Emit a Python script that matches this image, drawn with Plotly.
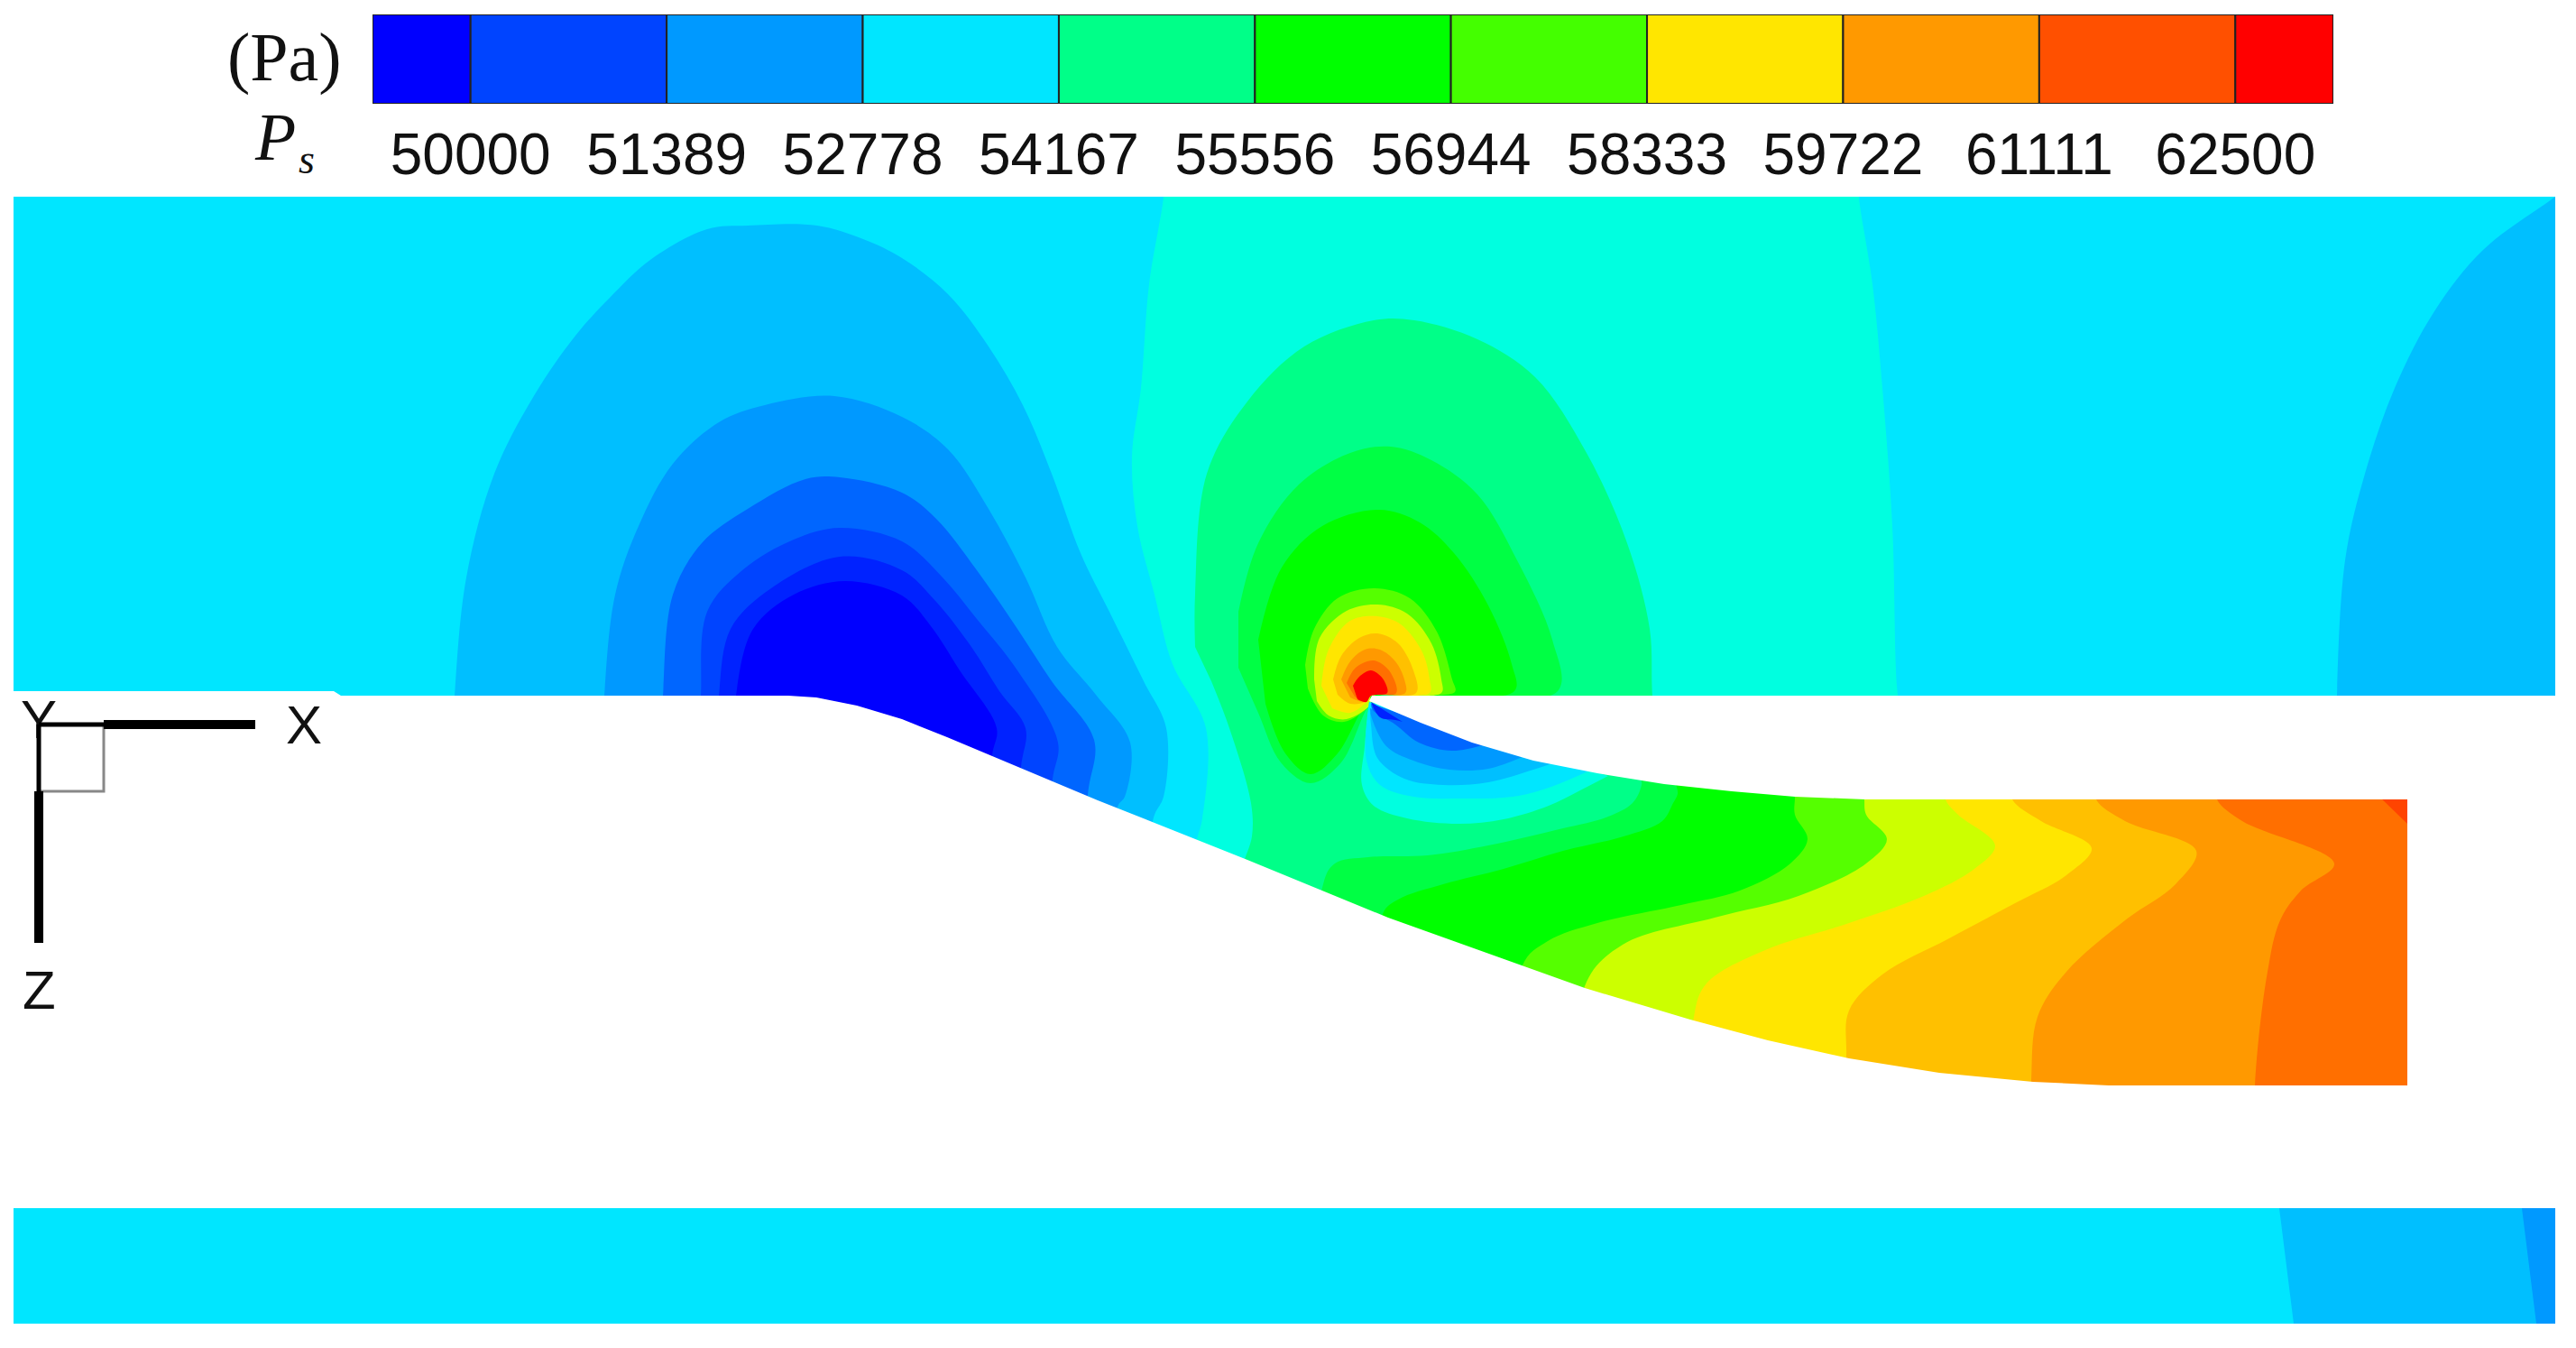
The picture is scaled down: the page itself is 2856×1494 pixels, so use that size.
import numpy as np
import plotly.graph_objects as go

# colour bar
levels = [50000, 51389, 52778, 54167, 55556, 56944, 58333, 59722, 61111, 62500]
level_labels = ["50000", "51389", "52778", "54167", "55556", "56944", "58333", "59722", "61111", "62500"]
bar_edges = [49305.5, 50000, 51389, 52778, 54167, 55556, 56944, 58333, 59722, 61111, 62500, 63194.5]
bar_colors = ["#0000ff", "#0044ff", "#0099ff", "#00e6ff", "#00ff88", "#00ff00",
              "#44ff00", "#ffe600", "#ff9900", "#ff5000", "#ff0000"]

# contour outlines (x, z in image units)
base_top = [(15, 218), (2833, 218), (2833, 771), (2669, 1300), (15, 1300)]
teal_top = [(1290, 200), (1290, 218), (1274, 315), (1265, 430), (1255, 506), (1261, 583), (1280, 659),
            (1300, 736), (1337, 807), (1333, 907), (1327, 930), (1310, 1000), (1400, 1300), (2000, 1300), (2700, 1000),
            (2700, 840), (2110, 800), (2104, 770), (2098, 583), (2087, 430), (2076, 315), (2061, 218), (2061, 200)]
right_dome = [(2591, 800), (2591, 770), (2600, 621), (2622, 525), (2655, 430), (2699, 345), (2753, 277),
              (2833, 218), (2870, 190), (2870, 800)]

dome_1 = [(502, 820), (504, 771), (517, 640), (548, 525), (593, 437), (638, 372), (676, 330), (721, 288),
          (784, 254), (829, 250), (906, 250), (957, 265), (1000, 286), (1051, 326), (1096, 384), (1134, 449),
          (1166, 525), (1198, 613), (1230, 678), (1268, 755), (1293, 807), (1290, 883), (1280, 903),
          (1250, 1000), (500, 1000)]
dome_2 = [(668, 820), (670, 771), (682, 659), (708, 583), (746, 514), (797, 468), (848, 449), (925, 439),
          (1000, 462), (1051, 498), (1096, 564), (1137, 640), (1172, 717), (1215, 770), (1253, 823),
          (1247, 883), (1240, 892), (1200, 1000), (668, 1000)]
dome_3 = [(733, 820), (735, 771), (746, 659), (778, 602), (829, 564), (893, 531), (931, 529), (1000, 546),
          (1038, 575), (1083, 632), (1128, 697), (1166, 755), (1213, 820), (1207, 873), (1180, 1000), (733, 1000)]
dome_4 = [(775, 820), (777, 771), (784, 678), (823, 632), (880, 598), (931, 585), (1000, 600), (1045, 640),
          (1083, 686), (1128, 743), (1173, 823), (1167, 863), (1150, 1000), (775, 1000)]
dome_5 = [(795, 820), (797, 771), (810, 697), (855, 652), (931, 617), (1000, 632), (1038, 667), (1077, 717),
          (1108, 766), (1137, 807), (1132, 850), (1120, 1000), (795, 1000)]
dome_6 = [(814, 820), (816, 771), (835, 697), (880, 659), (937, 644), (1000, 660), (1032, 694), (1064, 743),
          (1105, 807), (1100, 837), (1090, 1000), (814, 1000)]

green_1 = [(1325, 717), (1325, 659), (1338, 525), (1383, 445), (1446, 384), (1523, 355), (1568, 355), (1638, 376),
           (1702, 418), (1759, 502), (1804, 602), (1829, 697), (1832, 771), (1840, 840), (2660, 840), (2700, 1000),
           (2700, 1300), (1400, 1300), (1375, 1000), (1378, 960), (1388, 927), (1387, 890), (1363, 807), (1343, 755)]
green_2 = [(1373, 678), (1395, 602), (1440, 537), (1497, 502), (1542, 495), (1587, 510), (1638, 548), (1682, 621),
           (1721, 709), (1727, 766), (1530, 771), (1517, 783), (1487, 845), (1453, 868), (1420, 845), (1395, 790),
           (1373, 740)]
green_3 = [(1395, 709), (1421, 629), (1466, 583), (1529, 565), (1574, 579), (1612, 613), (1650, 671), (1676, 736),
           (1679, 766), (1530, 771), (1515, 780), (1483, 835), (1453, 858), (1425, 835), (1403, 780)]
halo_1 = [(1447, 737), (1457, 697), (1483, 663), (1523, 652), (1563, 663), (1593, 700), (1610, 753), (1613, 767),
          (1520, 771), (1517, 783), (1490, 800), (1467, 793), (1450, 763)]
halo_2 = [(1457, 753), (1463, 707), (1493, 677), (1527, 670), (1560, 680), (1587, 713), (1598, 753), (1598, 768),
          (1520, 771), (1520, 780), (1493, 797), (1473, 793), (1460, 777)]
halo_3 = [(1465, 760), (1473, 720), (1497, 688), (1527, 683), (1553, 692), (1577, 723), (1585, 753), (1585, 768),
          (1520, 771), (1515, 778), (1497, 790), (1477, 785)]
halo_4 = [(1478, 753), (1487, 727), (1507, 707), (1527, 702), (1550, 713), (1567, 743), (1570, 768), (1520, 771),
          (1513, 778), (1497, 780), (1483, 770)]
halo_5 = [(1487, 753), (1497, 733), (1513, 720), (1530, 720), (1547, 733), (1557, 753), (1558, 768), (1520, 771),
          (1513, 778), (1497, 773)]
halo_6 = [(1493, 757), (1503, 740), (1523, 732), (1540, 743), (1548, 768), (1520, 771), (1513, 778), (1502, 772)]
halo_7 = [(1500, 760), (1507, 750), (1520, 743), (1533, 752), (1538, 768), (1520, 771), (1515, 778), (1505, 775)]

lip_1 = [(1518, 778), (1513, 827), (1510, 870), (1523, 893), (1560, 907), (1617, 913), (1667, 908), (1717, 893),
         (1750, 877), (1783, 860)]
lip_2 = [(1518, 778), (1515, 843), (1530, 870), (1567, 883), (1623, 885), (1677, 883), (1717, 873), (1767, 852)]
lip_3 = [(1519, 790), (1520, 803), (1527, 840), (1557, 863), (1600, 870), (1650, 867), (1700, 853), (1733, 842)]
lip_4 = [(1519, 785), (1520, 793), (1537, 827), (1567, 843), (1607, 853), (1650, 852), (1690, 838)]
lip_5 = [(1520, 780), (1522, 787), (1547, 803), (1573, 823), (1610, 832), (1650, 824)]
lip_6 = [(1520, 778), (1530, 795), (1547, 798), (1555, 800)]

duct_1 = [(1820, 870), (1810, 890), (1783, 905), (1733, 918), (1650, 937), (1583, 948), (1517, 950), (1480, 957), (1467, 980)]
duct_2 = [(1860, 880), (1855, 890), (1843, 910), (1800, 927), (1733, 943), (1667, 963), (1600, 980), (1550, 997), (1533, 1013)]
duct_3 = [(1990, 884), (1990, 903), (2004, 930), (1985, 957), (1929, 987), (1864, 1003), (1771, 1023), (1716, 1043), (1688, 1070)]
duct_4 = [(2067, 886), (2069, 903), (2092, 930), (2069, 957), (1994, 993), (1901, 1017), (1799, 1047), (1757, 1093)]
duct_5 = [(2157, 886), (2171, 903), (2212, 937), (2189, 963), (2133, 993), (2050, 1023), (1957, 1053), (1892, 1090), (1878, 1127)]
duct_6 = [(2231, 886), (2263, 910), (2319, 940), (2291, 970), (2236, 1000), (2161, 1040), (2087, 1080), (2050, 1120), (2047, 1170)]
duct_7 = [(2324, 886), (2356, 910), (2435, 943), (2412, 980), (2356, 1020), (2291, 1077), (2259, 1127), (2252, 1198)]
duct_8 = [(2458, 886), (2486, 910), (2588, 957), (2551, 987), (2528, 1020), (2514, 1077), (2500, 1203)]
duct_9 = [(2635, 880), (2645, 890), (2669, 913), (2690, 913), (2690, 880)]

top_bands = [teal_top, right_dome, dome_1, dome_2, dome_3, dome_4, dome_5, dome_6,
             green_1, green_2, green_3, halo_1, halo_2, halo_3, halo_4, halo_5, halo_6, halo_7,
             lip_1, lip_2, lip_3, lip_4, lip_5, lip_6]
top_colors = ["#00ffe0", "#00bfff", "#00bfff", "#0099ff", "#0066ff", "#0044ff", "#0022ff", "#0000ff",
              "#00ff88", "#00ff44", "#00ff00", "#55ff00", "#ccff00", "#ffe600", "#ffc000", "#ff9900", "#ff6f00", "#ff0000",
              "#00ffe0", "#00e6ff", "#00bfff", "#0099ff", "#0066ff", "#0022ff"]
duct_bands = [duct_1, duct_2, duct_3, duct_4, duct_5, duct_6, duct_7, duct_8]
duct_colors = ["#00ff44", "#00ff00", "#55ff00", "#ccff00", "#ffe600", "#ffc000", "#ff9900", "#ff6f00"]

# white walls
wall_lower = [(0, 766), (370, 766), (378, 771), (874, 771), (905, 773), (950, 782), (1000, 797), (1050, 817),
              (1217, 887), (1383, 953), (1539, 1017), (1688, 1070), (1757, 1095), (1874, 1130),
              (1960, 1153), (2050, 1173), (2150, 1189), (2254, 1199), (2338, 1203), (2669, 1203), (2669, 1339), (0, 1339)]
wall_upper = [(1521, 771), (1518, 777), (1575, 801), (1632, 823), (1700, 843), (1771, 857), (1845, 869), (1920, 877),
              (1990, 883), (2068, 886), (2669, 886), (2669, 1339), (2856, 1339), (2856, 771)]
frame_top = [(0, 0), (2856, 0), (2856, 218), (0, 218)]
frame_left = [(0, 0), (15, 0), (15, 1494), (0, 1494)]
frame_right = [(2833, 0), (2856, 0), (2856, 1494), (2833, 1494)]

# lower panel
lower_base = [(15, 1339), (2833, 1339), (2833, 1467), (15, 1467)]
lower_mid = [(2527, 1339), (2833, 1339), (2833, 1467), (2543, 1467)]
lower_end = [(2796, 1339), (2833, 1339), (2833, 1467), (2812, 1467)]

# the page keeps its 8 px body margin, so the figure starts there
page_margin = 8


def add_band(fig, points, color, shape="spline"):
    xs = [p[0] for p in points]
    ys = [p[1] for p in points]
    line = dict(width=0, shape=shape)
    if shape == "spline":
        line["smoothing"] = 1.0
    fig.add_trace(go.Scatter(x=xs, y=ys, mode="lines", fill="toself", fillcolor=color,
                             line=line, hoverinfo="skip", showlegend=False))


def add_line(fig, xs, ys, width, color="#000000"):
    fig.add_trace(go.Scatter(x=xs, y=ys, mode="lines", line=dict(color=color, width=width),
                             hoverinfo="skip", showlegend=False))


def close_duct(points):
    # outline runs lip to wall, the rest of the polygon stays behind the white walls
    lip_x, lip_y = points[0]
    wall_x = points[-1][0]
    return [(2700, lip_y - 20), (lip_x, lip_y - 20)] + points + [(wall_x, 1300), (2700, 1300)]


fig = go.Figure()

add_band(fig, base_top, "#00e6ff", "linear")
for band, color in zip(top_bands, top_colors):
    add_band(fig, band, color)
for band, color in zip(duct_bands, duct_colors):
    add_band(fig, close_duct(band), color)
add_band(fig, duct_9, "#ff4400", "linear")

for wall in [wall_lower, wall_upper, frame_top, frame_left, frame_right]:
    add_band(fig, wall, "#ffffff", "linear")

add_band(fig, lower_base, "#00e6ff", "linear")
add_band(fig, lower_mid, "#00bfff", "linear")
add_band(fig, lower_end, "#0099ff", "linear")

# axis triad, the Y is cut off by the little box
fig.add_trace(go.Scatter(x=[43], y=[803], mode="text", text=["Y"], textposition="middle center",
                         textfont=dict(family="Liberation Sans", size=60, color="#111111"),
                         hoverinfo="skip", showlegend=False))
fig.add_trace(go.Scatter(x=[43, 115, 115, 43, 43], y=[803, 803, 877, 877, 803], mode="lines", fill="toself",
                         fillcolor="#ffffff", line=dict(color="#888888", width=3),
                         hoverinfo="skip", showlegend=False))
add_line(fig, [43, 115], [803, 803], 5)
add_line(fig, [115, 283], [803, 803], 10)
add_line(fig, [43, 43], [803, 877], 5)
add_line(fig, [43, 43], [877, 1045], 10)

# colour bar as stacked pieces on its own axes
fig.add_trace(go.Bar(y=[0] * len(bar_colors), x=np.diff(bar_edges), base=bar_edges[:-1], orientation="h", width=1,
                     marker=dict(color=bar_colors, line=dict(color="#222222", width=2)),
                     xaxis="x2", yaxis="y2", hoverinfo="skip", showlegend=False))

fig_w = 2856 - page_margin
fig_h = 1494 - page_margin
fig.update_layout(
    width=fig_w, height=fig_h,
    margin=dict(l=0, r=0, t=0, b=0),
    paper_bgcolor="white", plot_bgcolor="white",
    xaxis=dict(range=[page_margin, 2856], domain=[0, 1], visible=False),
    yaxis=dict(range=[1494, page_margin], domain=[0, 1], visible=False),
    xaxis2=dict(range=[bar_edges[0], bar_edges[-1]],
                domain=[(413 - page_margin) / fig_w, (2587 - page_margin) / fig_w], anchor="y2",
                tickmode="array", tickvals=levels, ticktext=level_labels, tickangle=0,
                ticks="outside", ticklen=0, tickcolor="rgba(0,0,0,0)", showgrid=False, zeroline=False,
                tickfont=dict(family="Liberation Sans", size=64, color="#111111")),
    yaxis2=dict(range=[-0.5, 0.5],
                domain=[1 - (115 - page_margin) / fig_h, 1 - (16 - page_margin) / fig_h], anchor="x2", visible=False),
    annotations=[
        dict(x=315, y=63, xref="x", yref="y", text="(Pa)", showarrow=False,
             font=dict(family="Liberation Serif", size=76, color="#111111")),
        dict(x=305, y=152, xref="x", yref="y", text="<i>P</i>", showarrow=False,
             font=dict(family="Liberation Serif", size=74, color="#111111")),
        dict(x=340, y=176, xref="x", yref="y", text="<i>s</i>", showarrow=False,
             font=dict(family="Liberation Serif", size=46, color="#111111")),
        dict(x=337, y=803, xref="x", yref="y", text="X", showarrow=False,
             font=dict(family="Liberation Sans", size=60, color="#111111")),
        dict(x=43, y=1097, xref="x", yref="y", text="Z", showarrow=False,
             font=dict(family="Liberation Sans", size=60, color="#111111")),
    ],
)

fig.write_html("out.html")
